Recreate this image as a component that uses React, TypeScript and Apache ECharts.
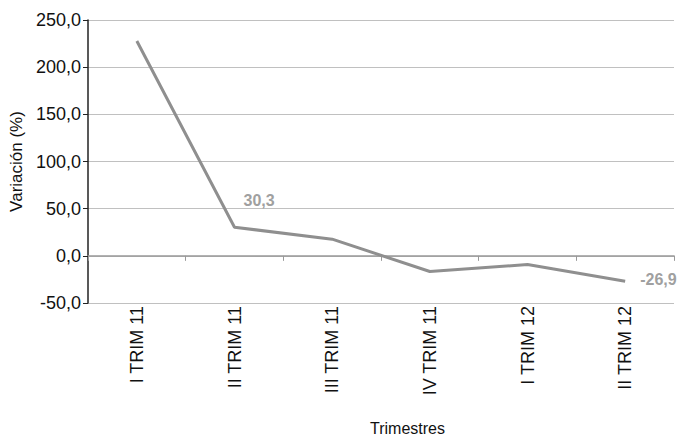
import React, { useEffect, useRef } from "react";
import * as echarts from "echarts";

const categories = ["I TRIM 11", "II TRIM 11", "III TRIM 11", "IV TRIM 11", "I TRIM 12", "II TRIM 12"];
const values = [227.7, 30.3, 17.7, -16.6, -9.2, -26.9];
const labeledIndices = [1, 5];
const yMin = -50;
const yMax = 250;
const yInterval = 50;
const xTitle = "Trimestres";
const yTitle = "Variación (%)";

const fmt = (v: number) => v.toFixed(1).replace(".", ",");

export default function App() {
  const ref = useRef<HTMLDivElement>(null);
  useEffect(() => {
    const chart = echarts.init(ref.current!, null, { renderer: "svg" });
    const font = "Liberation Sans, Arial, sans-serif";
    chart.setOption({
      animation: false,
      grid: { left: 88, right: 20, top: 20, bottom: 136 },
      graphic: [
        {
          type: "text",
          left: 370,
          top: 420,
          style: {
            text: xTitle,
            fontSize: 16,
            fill: "#111",
            fontFamily: font,
            textAlign: "center",
          },
        },
      ],
      xAxis: [
        {
          type: "category",
          data: categories,
          boundaryGap: true,
          position: "bottom",
          axisLine: { show: false, onZero: false },
          axisTick: { show: false },
          axisLabel: {
            rotate: 90,
            fontSize: 18,
            color: "#111",
            fontFamily: font,
            margin: 3,
          },
        },
        {
          type: "category",
          data: categories,
          boundaryGap: true,
          position: "bottom",
          axisLine: { show: true, onZero: true, lineStyle: { color: "#999", width: 1.5 } },
          axisTick: { show: true, length: 5, inside: false, lineStyle: { color: "#999" } },
          axisLabel: { show: false },
        },
      ],
      yAxis: {
        type: "value",
        min: yMin,
        max: yMax,
        interval: yInterval,
        axisLine: { show: true, lineStyle: { color: "#222", width: 1.5 } },
        axisTick: { show: true, length: 5, lineStyle: { color: "#222" } },
        axisLabel: {
          formatter: (v: number) => fmt(v),
          fontSize: 18,
          color: "#111",
          fontFamily: font,
          margin: 7,
        },
        splitLine: { show: true, lineStyle: { color: "#c0c0c0", width: 1 } },
        name: yTitle,
        nameLocation: "middle",
        nameGap: 62,
        nameTextStyle: { fontSize: 17, color: "#111", fontFamily: font },
      },
      series: [
        {
          type: "line",
          xAxisIndex: 0,
          showSymbol: true,
          symbol: "circle",
          symbolSize: 2,
          itemStyle: { color: "rgba(0,0,0,0)" },
          labelLayout: { hideOverlap: false },
          data: values.map((v, i) => {
            const last = i === values.length - 1;
            return {
              value: v,
              label: labeledIndices.includes(i)
                ? {
                    show: true,
                    position: last ? [16, -9] : [10, -34],
                    formatter: () => fmt(v),
                    fontSize: 16,
                    fontWeight: "bold",
                    color: "#a0a0a0",
                    fontFamily: font,
                  }
                : { show: false },
            };
          }),
          lineStyle: { color: "#8f8f8f", width: 3 },
          z: 5,
        },
      ],
    });
    return () => chart.dispose();
  }, []);
  return <div ref={ref} style={{ width: 694, height: 439, position: "absolute", left: 0, top: 0 }} />;
}
